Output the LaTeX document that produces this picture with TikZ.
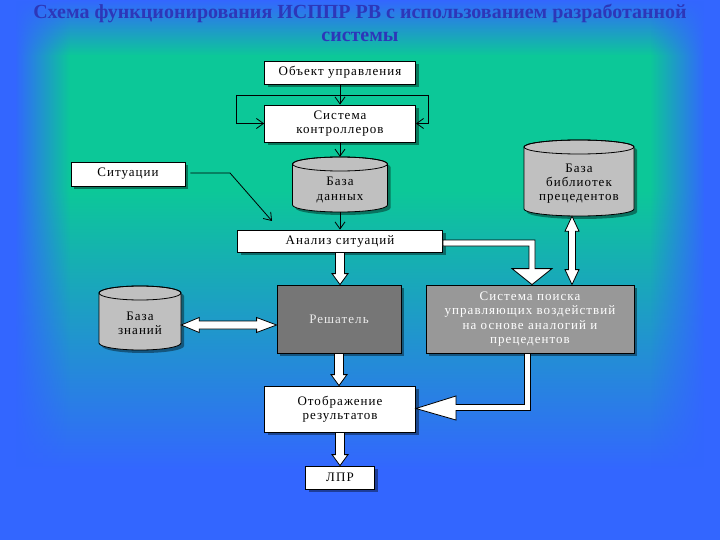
\documentclass[tikz,border=0pt]{standalone}
\usepackage{fontspec}
\setmainfont{Liberation Serif}
\newfontfamily\boxfont[LetterSpace=8]{Liberation Serif}
\usetikzlibrary{calc,shadows,fadings,arrows.meta}

\definecolor{bgblue}{RGB}{51,102,255}
\definecolor{bggreen}{RGB}{12,200,152}
\definecolor{titleblue}{RGB}{45,55,185}
\definecolor{cylgray}{RGB}{192,192,192}
\definecolor{resgray}{RGB}{118,118,118}
\definecolor{srchgray}{RGB}{152,152,152}

\tikzfading[name=fadetoright, left color=transparent!0, right color=transparent!100]
\tikzfading[name=fadetoleft, left color=transparent!100, right color=transparent!0]

\tikzset{
  boxtext/.style={font=\boxfont\fontsize{13}{14.3}\selectfont, align=center},
  wbox/.style={boxtext, draw=black, line width=0.8pt, fill=white, inner sep=0pt,
    drop shadow={shadow xshift=3pt, shadow yshift=-3pt, fill=black, opacity=0.4}},
  resbox/.style={wbox, fill=resgray, text=white!92!black},
  srchbox/.style={wbox, fill=srchgray, text=white},
  cylarea/.style={inner sep=0pt, draw=none},
  cyltext/.style={boxtext, inner sep=0pt},
  titletext/.style={font=\bfseries\fontsize{20}{24}\selectfont, text=titleblue},
  thinarr/.style={draw=black, line width=0.8pt, -{Straight Barb[length=7pt, width=10pt]}},
  thinline/.style={draw=black, line width=0.8pt},
  blk/.style={fill=white, draw=black, line width=0.8pt, line join=miter},
}

% cylinder: name, cx, cy, w, h, text
\newcommand\mycyl[6]{%
  \pgfmathsetmacro\cL{#2-#4/2}\pgfmathsetmacro\cR{#2+#4/2}%
  \pgfmathsetmacro\cT{#3-#5/2+7}\pgfmathsetmacro\cB{#3+#5/2-7}%
  \pgfmathsetmacro\cRx{#4/2}%
  \fill[black, opacity=0.4, shift={(3,3)}] (\cL,\cT) -- (\cL,\cB)
    arc[start angle=180, end angle=0, x radius=\cRx, y radius=7] -- (\cR,\cT)
    arc[start angle=0, end angle=-180, x radius=\cRx, y radius=7] -- cycle;
  \draw[fill=cylgray, line width=0.8pt] (\cL,\cT) -- (\cL,\cB)
    arc[start angle=180, end angle=0, x radius=\cRx, y radius=7] -- (\cR,\cT)
    arc[start angle=0, end angle=-180, x radius=\cRx, y radius=7] -- cycle;
  \draw[line width=0.8pt] (#2,\cT) ellipse[x radius=\cRx, y radius=7];
  \node[cylarea, minimum width=#4, minimum height=#5] (#1) at (#2,#3) {};
  \node[cyltext] (#1-txt) at (#2,#3+5.5) {#6};
}

% vertical block arrow down
\newcommand\blkdown[2]{%
  \draw[blk] let \p1=#1, \p2=#2 in
    ({\x1-4.5pt},\y1) -- ({\x1-4.5pt},{\y2+11pt}) -- ({\x1-8pt},{\y2+11pt}) -- (\x1,\y2)
    -- ({\x1+8pt},{\y2+11pt}) -- ({\x1+4.5pt},{\y2+11pt}) -- ({\x1+4.5pt},\y1) -- cycle;
}

\begin{document}
\begin{tikzpicture}[x=1pt, y=-1pt]
\useasboundingbox (0,0) rectangle (720,540);

% background
\fill[bgblue] (0,0) rectangle (720,540);
\shade[top color=bgblue, bottom color=bggreen] (0,0) rectangle (720,56);
\fill[bggreen] (0,55) rectangle (720,191);
\shade[top color=bggreen, bottom color=bgblue] (0,190) rectangle (720,470);
\fill[bgblue] (0,0) rectangle (16,540);
\fill[bgblue] (704,0) rectangle (720,540);
\fill[bgblue, path fading=fadetoright] (15,0) rectangle (70,540);
\fill[bgblue, path fading=fadetoleft] (650,0) rectangle (705,540);

% title
\node[titletext] (t1) at (360,14) {Схема функционирования ИСППР РВ с использованием разработанной};
\node[titletext] (t2) at (360,37) {системы};

% boxes
\node[wbox, minimum width=151, minimum height=23] (obj) at (340,72.5) {Объект управления};
\node[wbox, minimum width=151, minimum height=37] (ctl) at (340,123.5) {Система\\контроллеров};
\node[wbox, minimum width=114, minimum height=24] (sit) at (128,174) {Ситуации};
\node[wbox, minimum width=205, minimum height=22] (ana) at (340,241) {Анализ ситуаций};
\node[resbox, minimum width=124, minimum height=68] (res) at (339,319) {Решатель};
\node[srchbox, minimum width=208, minimum height=68] (srch) at (530,319)
  {Система поиска\\управляющих воздействий\\на основе аналогий и\\прецедентов};
\node[wbox, minimum width=151, minimum height=46] (disp) at (340,409) {Отображение\\результатов};
\node[wbox, minimum width=69, minimum height=23] (lpr) at (340,477.5) {ЛПР};

% cylinders
\mycyl{db}{340}{184.5}{95}{55}{База\\данных}
\mycyl{lib}{579}{178}{110}{76}{База\\библиотек\\прецедентов}
\mycyl{kb}{140}{318}{82}{64}{База\\знаний}

% thin connectors
\draw[thinarr] (obj.south) -- (ctl.north);
\coordinate (fbL) at (236,95);
\coordinate (fbR) at (428,95);
\draw[thinline] (fbL) -- (fbR);
\draw[thinarr] (fbL) |- (ctl.west);
\draw[thinarr] (fbR) |- (ctl.east);
\draw[thinarr] (ctl.south) -- (db.north);
\draw[thinarr] (db.south) -- (ana.north);
\coordinate (sitbend) at (230,173);
\coordinate (sittip) at (272,221);
\draw[thinarr] ($(sit.east)+(5,-1)$) -- (sitbend) -- (sittip);

% block arrows down
\blkdown{(ana.south)}{(res.north)}
\blkdown{(res.south)}{(disp.north)}
\blkdown{(disp.south)}{(lpr.north)}

% double arrow kb <-> res
\draw[blk] let \p1=($(kb.east)+(0,7)$), \p2=(res.west) in
  (\x1,\y1) -- ({\x1+18pt},{\y1+7.5pt}) -- ({\x1+18pt},{\y1+4pt}) -- ({\x2-20pt},{\y1+4pt})
  -- ({\x2-20pt},{\y1+7.5pt}) -- (\x2,\y1) -- ({\x2-20pt},{\y1-7.5pt}) -- ({\x2-20pt},{\y1-4pt})
  -- ({\x1+18pt},{\y1-4pt}) -- ({\x1+18pt},{\y1-7.5pt}) -- cycle;

% double arrow lib <-> srch
\draw[blk] let \p1=($(lib.south)+(-7,0)$), \p2=(srch.north) in
  (\x1,\y1) -- ({\x1+7pt},{\y1-15pt}) -- ({\x1+3.5pt},{\y1-15pt}) -- ({\x1+3.5pt},{\y2+15pt})
  -- ({\x1+7pt},{\y2+15pt}) -- (\x1,\y2) -- ({\x1-7pt},{\y2+15pt}) -- ({\x1-3.5pt},{\y2+15pt})
  -- ({\x1-3.5pt},{\y1-15pt}) -- ({\x1-7pt},{\y1-15pt}) -- cycle;

% big arrow ana -> srch
\draw[blk] let \p1=(ana.east), \p2=(srch.north) in
  (\x1,{\y1+1pt}) -- ({\x2+5pt},{\y1+1pt}) -- ({\x2+5pt},{\y2+16pt}) -- ({\x2+22pt},{\y2+16pt})
  -- ({\x2+2pt},\y2) -- ({\x2-18pt},{\y2+16pt}) -- ({\x2-1pt},{\y2+16pt}) -- ({\x2-1pt},{\y1-5pt})
  -- (\x1,{\y1-5pt}) -- cycle;

% big arrow srch -> disp
\draw[blk] let \p1=(srch.south), \p2=(disp.east) in
  ({\x1-5.5pt},\y1) -- ({\x1-5.5pt},{\y2+4.5pt}) -- ({\x2+40pt},{\y2+4.5pt}) -- ({\x2+40pt},{\y2+13pt})
  -- (\x2,{\y2+0.5pt}) -- ({\x2+40pt},{\y2-11pt}) -- ({\x2+40pt},{\y2-1.5pt}) -- ({\x1+0.5pt},{\y2-1.5pt})
  -- ({\x1+0.5pt},\y1) -- cycle;

\end{tikzpicture}
\end{document}
